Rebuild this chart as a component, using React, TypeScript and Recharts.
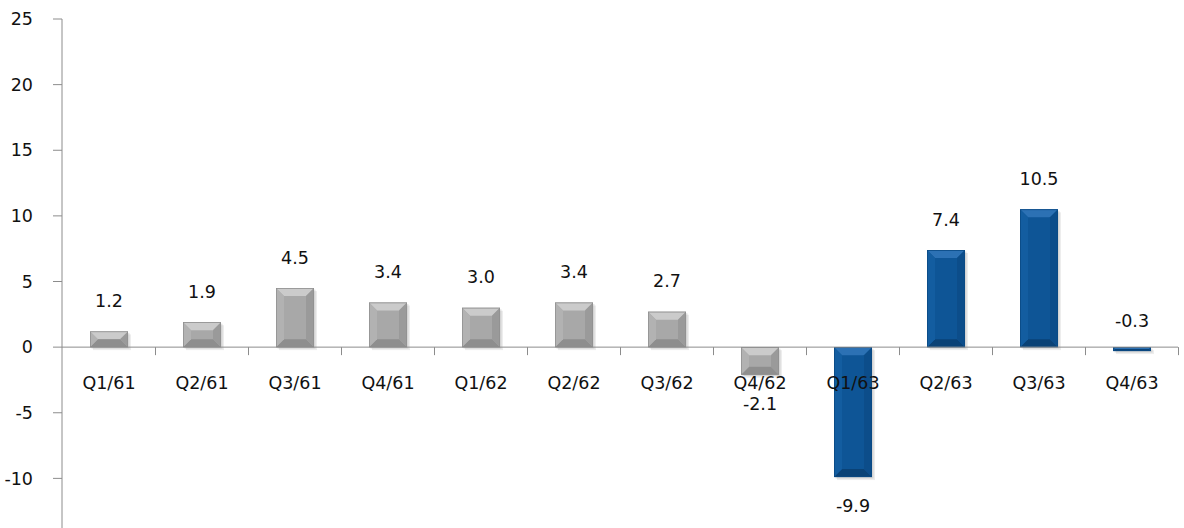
import { BarChart, Bar, XAxis, YAxis, ReferenceLine, LabelList } from 'recharts'

const CATEGORIES = ['Q1/61', 'Q2/61', 'Q3/61', 'Q4/61', 'Q1/62', 'Q2/62', 'Q3/62', 'Q4/62', 'Q1/63', 'Q2/63', 'Q3/63', 'Q4/63']
const VALUES = [1.2, 1.9, 4.5, 3.4, 3.0, 3.4, 2.7, -2.1, -9.9, 7.4, 10.5, -0.3]
// bars from Q1/63 on are drawn in blue
const HIGHLIGHT = [false, false, false, false, false, false, false, false, true, true, true, true]
const Y_TICKS = [-10, -5, 0, 5, 10, 15, 20, 25]
const Y_MIN = -15
const Y_MAX = 25

const CHART_W = 1184
const CHART_H = 544
const Y_AXIS_W = 62
const MARGIN = { top: 19, right: 6, left: 0, bottom: 0 }
const BAND = (CHART_W - Y_AXIS_W - MARGIN.left - MARGIN.right) / CATEGORIES.length

const FONT = '"DejaVu Sans", Verdana, sans-serif'
const AXIS = '#8c8c8c'
const TEXT = '#111'

const GRAY = { face: '#a8a8a8', top: '#cbcbcb', left: '#b2b2b2', right: '#9a9a9a', bottom: '#8e8e8e', edge: '#909090' }
const BLUE = { face: '#0e5596', top: '#2c71b4', left: '#135da0', right: '#0c4d8a', bottom: '#0a4276', edge: '#0b4a84' }

const data = CATEGORIES.map((cat, i) => ({ cat, value: VALUES[i] }))

const BevelBar = (props: any) => {
    const { x, y, width, height, index } = props
    const top = Math.min(y, y + height)
    const h = Math.abs(height)
    if (!h || !width) return null
    const pal = HIGHLIGHT[index] ? BLUE : GRAY
    const b = Math.min(8, h / 2, width / 2)
    const l = x
    const r = x + width
    const btm = top + h
    return (
        <g>
            <rect x={l + 3} y={top + 3} width={width} height={h} fill="rgba(0,0,0,0.07)" />
            <rect x={l + 1.5} y={top + 1.5} width={width} height={h} fill="rgba(0,0,0,0.1)" />
            <rect x={l} y={top} width={width} height={h} fill={pal.face} />
            <polygon points={`${l},${top} ${r},${top} ${r - b},${top + b} ${l + b},${top + b}`} fill={pal.top} />
            <polygon points={`${l},${btm} ${r},${btm} ${r - b},${btm - b} ${l + b},${btm - b}`} fill={pal.bottom} />
            <polygon points={`${l},${top} ${l + b},${top + b} ${l + b},${btm - b} ${l},${btm}`} fill={pal.left} />
            <polygon points={`${r},${top} ${r - b},${top + b} ${r - b},${btm - b} ${r},${btm}`} fill={pal.right} />
            <rect x={l + 0.4} y={top + 0.4} width={width - 0.8} height={h - 0.8} fill="none" stroke={pal.edge} strokeWidth={0.8} />
        </g>
    )
}

const ValueLabel = (props: any) => {
    const { x, y, width, height, value } = props
    const top = Math.min(y, y + height)
    const btm = Math.max(y, y + height)
    const cx = x + width / 2
    // small negatives sit above the axis like the positive ones
    const ty = value >= 0 ? top - 24.5 : value > -1 ? top - 20 : btm + 35
    return (
        <text x={cx} y={ty} textAnchor="middle" fontFamily={FONT} fontSize={17.5} fill={TEXT}>
            {Number(value).toFixed(1)}
        </text>
    )
}

// category names + separator ticks hang off the zero line
const CategoryLabel = (props: any) => {
    const { x, y, width, height, index } = props
    const v = VALUES[index]
    const zeroY = v >= 0 ? Math.max(y, y + height) : Math.min(y, y + height)
    const cx = x + width / 2
    const half = BAND / 2
    return (
        <g>
            {index > 0 && <line x1={cx - half} x2={cx - half} y1={zeroY} y2={zeroY + 8} stroke={AXIS} strokeWidth={1} />}
            {index === CATEGORIES.length - 1 && <line x1={cx + half} x2={cx + half} y1={zeroY} y2={zeroY + 8} stroke={AXIS} strokeWidth={1} />}
            <text x={cx} y={zeroY + 42} textAnchor="middle" fontFamily={FONT} fontSize={17.5} fill={TEXT}>
                {CATEGORIES[index]}
            </text>
        </g>
    )
}

export default function App() {
    return (
        <div style={{ position: 'fixed', top: 0, left: 0, width: 1184, height: 528, overflow: 'hidden', background: '#fff' }}>
            <BarChart width={CHART_W} height={CHART_H} data={data} margin={MARGIN}>
                <XAxis dataKey="cat" hide />
                <YAxis
                    width={Y_AXIS_W}
                    domain={[Y_MIN, Y_MAX]}
                    ticks={Y_TICKS}
                    interval={0}
                    allowDataOverflow
                    axisLine={{ stroke: AXIS }}
                    tickLine={{ stroke: AXIS }}
                    tickSize={9}
                    tickMargin={20}
                    tick={{ fill: TEXT, fontSize: 17.5, fontFamily: FONT }}
                />
                <ReferenceLine y={0} stroke={AXIS} strokeWidth={1} />
                <Bar dataKey="value" barSize={38} shape={<BevelBar />} isAnimationActive={false}>
                    <LabelList dataKey="cat" content={<CategoryLabel />} />
                    <LabelList dataKey="value" content={<ValueLabel />} />
                </Bar>
            </BarChart>
        </div>
    )
}
